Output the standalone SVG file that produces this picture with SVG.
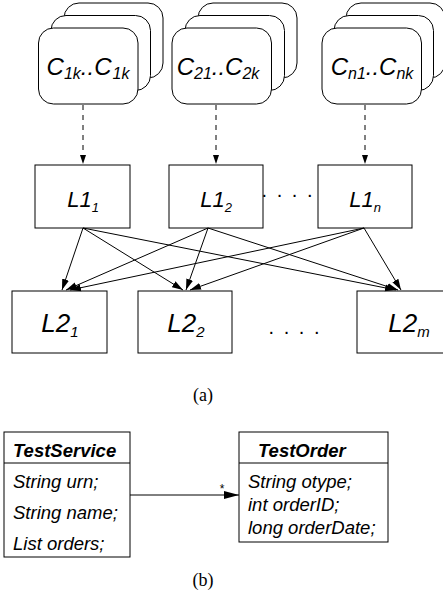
<svg xmlns="http://www.w3.org/2000/svg" width="443" height="592" viewBox="0 0 443 592">
<style>
.card{fill:#fff;stroke:#000;stroke-width:1}
.box{fill:#fff;stroke:#000;stroke-width:1}
.t{font-family:"Liberation Sans",Arial,sans-serif;font-style:italic;fill:#000}
.c{font-size:24px}
.l1{font-size:22px}
.l2{font-size:26px}
.u{font-size:18.5px}
.b{font-weight:bold}
.cap{font-family:"Liberation Serif","Times New Roman",serif;font-size:18px;fill:#000}
.dots{font-family:"Liberation Sans",Arial,sans-serif;font-size:20px;letter-spacing:2px}
.dash{stroke:#000;stroke-width:1;stroke-dasharray:5 5;fill:none}
.arr{stroke:#000;stroke-width:1;fill:none}
</style>
<defs>
<marker id="ah" markerUnits="userSpaceOnUse" markerWidth="12" markerHeight="8" refX="11" refY="4" orient="auto">
<path d="M0,0.5 L11,4 L0,7.5 z" fill="#000"/>
</marker>
<marker id="ahs" markerUnits="userSpaceOnUse" markerWidth="10" markerHeight="8" refX="9" refY="4" orient="auto">
<path d="M0,1 L9,4 L0,7 z" fill="#000"/>
</marker>
<marker id="ahu" markerUnits="userSpaceOnUse" markerWidth="16" markerHeight="10" refX="15" refY="5" orient="auto">
<path d="M0,1 L15,5 L0,9 z" fill="#000"/>
</marker>
</defs>

<g id="cards1">
<rect class="card" x="64" y="3" width="99" height="75" rx="15"/>
<rect class="card" x="51" y="15.5" width="99.5" height="75" rx="15"/>
<rect class="card" x="38.5" y="28" width="99.5" height="76" rx="15"/>
<text class="t c" x="88" y="75" text-anchor="middle">C<tspan font-size="16" dy="4">1k</tspan><tspan dy="-4">..C</tspan><tspan font-size="16" dx="1" dy="4">1k</tspan></text>
</g>
<g id="cards2">
<rect class="card" x="198" y="3" width="99" height="75" rx="15"/>
<rect class="card" x="185" y="15.5" width="99.5" height="75" rx="15"/>
<rect class="card" x="172" y="28" width="99.5" height="76" rx="15"/>
<text class="t c" x="218" y="75" text-anchor="middle">C<tspan font-size="16" dy="4">21</tspan><tspan dy="-4">..C</tspan><tspan font-size="16" dy="4">2k</tspan></text>
</g>
<g id="cards3">
<rect class="card" x="346" y="3" width="99" height="75" rx="15"/>
<rect class="card" x="334" y="15.5" width="99.5" height="75" rx="15"/>
<rect class="card" x="322" y="28" width="99.5" height="76" rx="15"/>
<text class="t c" x="372" y="75" text-anchor="middle">C<tspan font-size="16" dy="4">n1</tspan><tspan dy="-4">..C</tspan><tspan font-size="16" dy="4">nk</tspan></text>
</g>

<g id="L1_1">
<rect class="box" x="35" y="165" width="95" height="63"/>
<text class="t l1" x="83" y="207" text-anchor="middle">L1<tspan font-size="13" dy="5">1</tspan></text>
</g>
<g id="L1_2">
<rect class="box" x="169" y="165" width="94" height="63"/>
<text class="t l1" x="216" y="207" text-anchor="middle">L1<tspan font-size="13" dy="5">2</tspan></text>
</g>
<g id="L1_n">
<rect class="box" x="318" y="165" width="94" height="63"/>
<text class="t l1" x="365" y="207" text-anchor="middle">L1<tspan font-size="13" dy="5">n</tspan></text>
</g>
<text class="dots" x="288" y="197" text-anchor="middle">. . . .</text>

<g id="L2_1">
<rect class="box" x="12" y="291" width="95" height="62"/>
<text class="t l2" x="60" y="332" text-anchor="middle">L2<tspan font-size="15" dy="5">1</tspan></text>
</g>
<g id="L2_2">
<rect class="box" x="138" y="291" width="94" height="62"/>
<text class="t l2" x="186" y="332" text-anchor="middle">L2<tspan font-size="15" dy="5">2</tspan></text>
</g>
<g id="L2_m">
<rect class="box" x="357" y="291" width="95" height="62"/>
<text class="t l2" x="409" y="332" text-anchor="middle">L2<tspan font-size="15" dy="5">m</tspan></text>
</g>
<text class="dots" x="295" y="334" text-anchor="middle">. . . .</text>

<g id="connectors">
<line class="dash" x1="83" y1="105" x2="83" y2="164" marker-end="url(#ahs)"/>
<line class="dash" x1="216" y1="105" x2="216" y2="164" marker-end="url(#ahs)"/>
<line class="dash" x1="365" y1="105" x2="365" y2="164" marker-end="url(#ahs)"/>
<line class="arr" x1="83" y1="228" x2="62" y2="290" marker-end="url(#ah)"/>
<line class="arr" x1="83" y1="228" x2="183" y2="290" marker-end="url(#ah)"/>
<line class="arr" x1="83" y1="228" x2="396" y2="290" marker-end="url(#ah)"/>
<line class="arr" x1="208" y1="228" x2="66" y2="290" marker-end="url(#ah)"/>
<line class="arr" x1="208" y1="228" x2="186" y2="290" marker-end="url(#ah)"/>
<line class="arr" x1="208" y1="228" x2="398" y2="290" marker-end="url(#ah)"/>
<line class="arr" x1="364" y1="228" x2="70" y2="290" marker-end="url(#ah)"/>
<line class="arr" x1="364" y1="228" x2="190" y2="290" marker-end="url(#ah)"/>
<line class="arr" x1="364" y1="228" x2="401" y2="290" marker-end="url(#ah)"/>
<line class="arr" x1="130" y1="495" x2="239" y2="495" marker-end="url(#ahu)"/>
<text x="222" y="493" font-family="Liberation Sans, Arial, sans-serif" font-size="12" text-anchor="middle">*</text>
</g>

<text class="cap" x="203" y="401" text-anchor="middle">(a)</text>

<g id="TestService">
<rect class="box" x="4" y="432" width="126" height="125"/>
<line class="arr" x1="4" y1="463" x2="130" y2="463"/>
<text class="t u b" x="13" y="457">TestService</text>
<text class="t u" x="13" y="488">String urn;</text>
<text class="t u" x="13" y="519">String name;</text>
<text class="t u" x="13" y="550">List orders;</text>
</g>
<g id="TestOrder">
<rect class="box" x="239" y="432" width="149" height="110"/>
<line class="arr" x1="239" y1="463" x2="388" y2="463"/>
<text class="t u b" x="258" y="457">TestOrder</text>
<text class="t u" x="248" y="488">String otype;</text>
<text class="t u" x="248" y="511">int orderID;</text>
<text class="t u" x="248" y="534">long orderDate;</text>
</g>

<text class="cap" x="203" y="586" text-anchor="middle">(b)</text>
</svg>
